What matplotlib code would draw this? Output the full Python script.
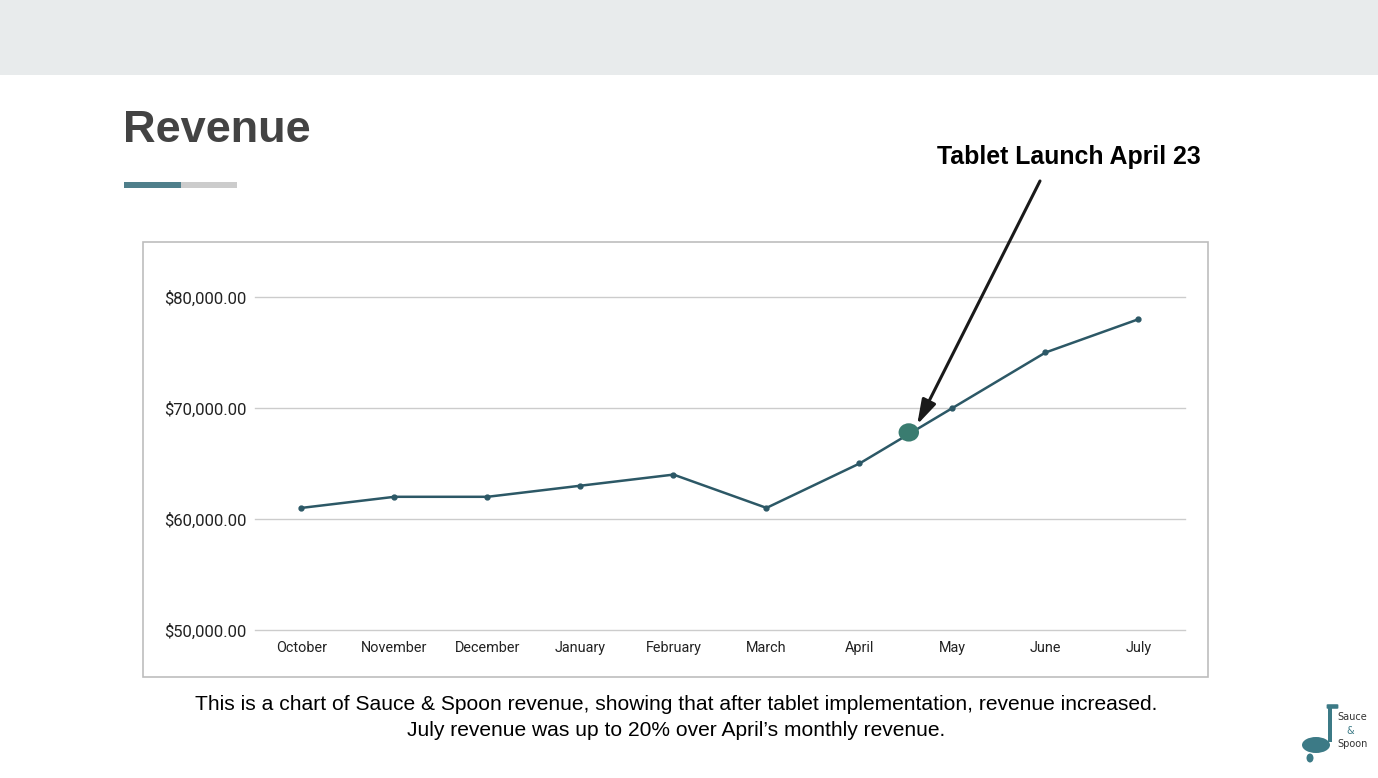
import matplotlib
matplotlib.use("Agg")
import matplotlib.pyplot as plt
from matplotlib.patches import Rectangle, Ellipse, FancyBboxPatch
from matplotlib.ticker import FuncFormatter

months = ["October", "November", "December", "January", "February",
          "March", "April", "May", "June", "July"]
revenue = [61000, 62000, 62000, 63000, 64000, 61000, 65000, 70000, 75000, 78000]
launch_pos = 6.53
launch_val = 67800
y_ticks = [50000, 60000, 70000, 80000]

W, H = 1378, 778
fig = plt.figure(figsize=(W / 100, H / 100), dpi=100)
fig.patch.set_facecolor("white")


def fx(px):
    return px / W


def fy(py):
    return 1 - py / H


# top band
fig.patches.append(Rectangle((0, fy(75)), 1, 75 / H, transform=fig.transFigure,
                             facecolor="#e8ebec", edgecolor="none", zorder=0))

# title and underline bar
fig.text(fx(123), fy(130), "Revenue", fontsize=32.5, fontweight="bold",
         color="#434343", family="Liberation Sans", va="center", ha="left")
fig.patches.append(Rectangle((fx(124), fy(188)), 57 / W, 6 / H, transform=fig.transFigure,
                             facecolor="#4f7f8b", edgecolor="none"))
fig.patches.append(Rectangle((fx(181), fy(188)), 56 / W, 6 / H, transform=fig.transFigure,
                             facecolor="#cccccc", edgecolor="none"))

# chart frame
fig.patches.append(Rectangle((fx(143), fy(677)), (1208 - 143) / W, (677 - 242) / H,
                             transform=fig.transFigure, facecolor="white",
                             edgecolor="#bdbdbd", linewidth=1.2, zorder=1))

ax = fig.add_axes([fx(255), fy(630), (1185 - 255) / W, (630 - 297) / H])
ax.set_zorder(2)
ax.patch.set_alpha(0)
ax.set_xlim(-0.5, len(months) - 0.5)
ax.set_ylim(50000, 80000)
ax.plot(range(len(months)), revenue, color="#2c5866", linewidth=1.8,
        marker="o", markersize=3.5, clip_on=False, zorder=3)
ax.add_patch(Ellipse((launch_pos, launch_val), 0.22, 1650, facecolor="#3a7c70",
                     edgecolor="none", zorder=4, clip_on=False))

ax.set_yticks(y_ticks)
ax.yaxis.set_major_formatter(FuncFormatter(lambda v, p: "${:,.2f}".format(v)))
ax.set_xticks(range(len(months)))
ax.set_xticklabels(months)
ax.grid(axis="y", color="#cccccc", linewidth=1)
for gl in ax.get_ygridlines():
    gl.set_clip_on(False)
ax.set_axisbelow(True)
for s in ax.spines.values():
    s.set_visible(False)
ax.tick_params(length=0)
ax.tick_params(axis="y", labelsize=12, pad=6, labelcolor="#222222")
ax.tick_params(axis="x", labelsize=10.4, pad=8, labelcolor="#222222")
for lbl in ax.get_xticklabels() + ax.get_yticklabels():
    lbl.set_family("Roboto")

# annotation
ax.annotate("", xy=(launch_pos + 0.09, launch_val + 700),
            xytext=(fx(1040), fy(181)), textcoords="figure fraction",
            arrowprops=dict(arrowstyle="-|>,head_length=1.5,head_width=0.45",
                            color="#1a1a1a", linewidth=2.2, shrinkA=0, shrinkB=0),
            annotation_clip=False)
fig.text(fx(1069), fy(157), "Tablet Launch April 23", fontsize=17.9, fontweight="bold",
         family="Liberation Sans", ha="center", va="center", color="black")

# caption
fig.text(fx(676), fy(705),
         "This is a chart of Sauce & Spoon revenue, showing that after tablet implementation, revenue increased.",
         fontsize=15.1, family="Liberation Sans", ha="center", va="center", color="black")
fig.text(fx(676), fy(731), "July revenue was up to 20% over April\u2019s monthly revenue.",
         fontsize=15.1, family="Liberation Sans", ha="center", va="center", color="black")

# small logo
logo = "#3c7a86"
fig.patches.append(Rectangle((fx(1328), fy(742)), 4 / W, 36 / H, transform=fig.transFigure,
                             facecolor=logo, edgecolor="none"))
fig.patches.append(FancyBboxPatch((fx(1328), fy(708)), 9 / W, 3 / H, transform=fig.transFigure,
                                  boxstyle="round,pad=0.001", facecolor=logo, edgecolor="none"))
fig.patches.append(Ellipse((fx(1316), fy(745)), 28 / W, 16 / H, transform=fig.transFigure,
                           facecolor=logo, edgecolor="none"))
fig.patches.append(Ellipse((fx(1310), fy(758)), 7 / W, 9 / H, transform=fig.transFigure,
                           facecolor=logo, edgecolor="none"))
fig.text(fx(1337), fy(717), "Sauce", fontsize=7, color="#333333", ha="left", va="center")
fig.text(fx(1346), fy(731), "&", fontsize=7, color=logo, ha="left", va="center")
fig.text(fx(1337), fy(744), "Spoon", fontsize=7, color="#333333", ha="left", va="center")

fig.savefig("out.png", dpi=100)
